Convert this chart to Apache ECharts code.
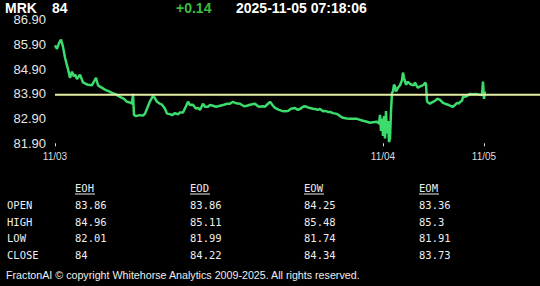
<!DOCTYPE html>
<html><head><meta charset="utf-8">
<script src="https://cdn.jsdelivr.net/npm/echarts@6/dist/echarts.min.js"></script>
<style>html,body{margin:0;padding:0;background:#000;}#c{width:540px;height:286px;}</style>
</head><body><div id="c"></div>
<script>
// sample positions (index along the session) and prices
const pos = [0,2,4,6,8,10,12,13,15,17,19,20,22,25,28,31,33,37,39,41,43,45,48,50,54,57,61,65,69,72,75,77,78,79,81,85,88,90,93,95,98,100,102,105,107,110,112,115,117,120,123,125,128,131,133,135,138,141,143,145,148,150,153,155,158,161,165,169,172,175,178,181,185,189,192,195,200,203,205,208,210,213,215,218,220,224,227,230,233,236,240,243,245,248,250,253,255,258,260,263,265,268,270,273,275,278,282,285,288,292,295,299,302,305,308,312,315,318,322,324,325,326,327,328,329,330,331,332,333,334,335,336,337,338,339,340,341,343,345,347,348,349,351,353,355,357,359,360,362,363,365,367,369,370,371,372,373,375,376,378,380,382,385,388,390,393,395,398,400,402,404,405,407,408,410,412,415,418,420,423,425,427,428,429,430];
const price = [85.86,85.72,85.95,86.10,85.80,85.37,85.05,84.90,84.55,84.80,84.60,84.68,84.50,84.68,84.36,84.30,84.27,84.25,84.40,84.55,84.25,84.19,84.12,84.07,84.00,83.94,83.88,83.78,83.70,83.58,83.55,83.50,83.90,83.05,83.00,83.04,83.02,83.10,83.40,83.60,83.82,83.72,83.58,83.50,83.46,83.30,83.10,83.08,83.04,83.12,83.07,83.15,83.15,83.40,83.58,83.45,83.46,83.30,83.33,83.25,83.50,83.38,83.38,83.45,83.42,83.38,83.42,83.46,83.50,83.50,83.58,83.52,83.50,83.40,83.42,83.46,83.50,83.40,83.38,83.40,83.38,83.50,83.58,83.42,83.33,83.25,83.21,83.20,83.21,83.30,83.33,83.25,83.29,83.38,83.40,83.35,83.33,83.30,83.29,83.25,83.29,83.20,83.21,83.17,83.17,83.12,83.09,83.00,82.93,82.90,82.89,82.89,82.89,82.85,82.81,82.77,82.73,82.75,82.77,82.70,83.05,82.40,82.90,82.20,83.00,82.10,83.20,82.30,82.80,81.95,82.10,83.20,83.94,84.00,84.27,84.20,84.00,84.15,84.25,84.45,84.76,84.55,84.27,84.39,84.30,84.27,84.25,84.36,84.20,84.15,84.20,84.23,84.28,84.36,84.30,83.60,83.55,83.50,83.54,83.58,83.62,83.70,83.66,83.54,83.50,83.46,83.42,83.38,83.45,83.54,83.50,83.58,83.62,83.78,83.78,83.82,83.90,83.88,83.90,83.88,83.86,83.85,84.40,83.70,84.00];
const refLevel = 83.86;
const dayTicks = [0, 328, 429];
const dayLabels = ['11/03', '11/04', '11/05'];
const yTicks = [81.9, 82.9, 83.9, 84.9, 85.9, 86.9];

const symbol = 'MRK', last = '84', change = '+0.14', stamp = '2025-11-05 07:18:06';
const colHeads = ['EOH', 'EOD', 'EOW', 'EOM'];
const rowHeads = ['OPEN', 'HIGH', 'LOW', 'CLOSE'];
const openVals = ['83.86', '83.86', '84.25', '83.36'];
const highVals = ['84.96', '85.11', '85.48', '85.3'];
const lowVals = ['82.01', '81.99', '81.74', '81.91'];
const closeVals = ['84', '84.22', '84.34', '83.73'];
const footer = 'FractonAI \u00A9 copyright Whitehorse Analytics 2009-2025. All rights reserved.';

const chart = echarts.init(document.getElementById('c'), null, {renderer: 'svg'});
const xMax = 485;
const lineData = pos.map((p, i) => [p, price[i]]);

const graphic = [];
const hdrFont = 'bold 14px Arial, "Liberation Sans", sans-serif';
graphic.push({type:'text', x:5, y:8, style:{text:symbol, font:hdrFont, fill:'#fff', textVerticalAlign:'middle'}});
graphic.push({type:'text', x:52, y:8, style:{text:last, font:hdrFont, fill:'#fff', textVerticalAlign:'middle'}});
graphic.push({type:'text', x:176, y:8, style:{text:change, font:hdrFont, fill:'#3cbf3c', textVerticalAlign:'middle'}});
graphic.push({type:'text', x:236, y:8, style:{text:stamp, font:hdrFont, fill:'#fff', textVerticalAlign:'middle'}});

const mono = '10.5px "DejaVu Sans Mono", "Liberation Mono", monospace';
const colX = [75, 190, 304, 419];
const rowY = [205, 222, 238, 255];
const rows = [openVals, highVals, lowVals, closeVals];
colHeads.forEach((h, i) => {
  graphic.push({type:'text', x:colX[i], y:188, style:{text:h, font:mono, fill:'#eee', textVerticalAlign:'middle'}});
  graphic.push({type:'line', shape:{x1:colX[i], y1:194, x2:colX[i]+20, y2:194}, style:{stroke:'#eee', lineWidth:1}});
});
rowHeads.forEach((r, j) => {
  graphic.push({type:'text', x:7, y:rowY[j], style:{text:r, font:mono, fill:'#eee', textVerticalAlign:'middle'}});
  rows[j].forEach((v, i) => {
    graphic.push({type:'text', x:colX[i], y:rowY[j], style:{text:v, font:mono, fill:'#eee', textVerticalAlign:'middle'}});
  });
});
graphic.push({type:'text', x:6, y:275, style:{text:footer, font:'10.7px Arial, "Liberation Sans", sans-serif', fill:'#eee', textVerticalAlign:'middle'}});

chart.setOption({
  backgroundColor: '#000',
  animation: false,
  grid: {left: 55, right: 0, top: 19.7, bottom: 142.7},
  xAxis: {
    type: 'value', min: 0, max: xMax,
    splitLine: {show: false},
    axisLine: {show: false},
    axisTick: {show: true, customValues: dayTicks, length: 3, lineStyle: {color: '#ddd', width: 1}},
    axisLabel: {customValues: dayTicks, color: '#ddd', fontSize: 10, fontFamily: 'Arial', margin: 8,
      formatter: v => dayLabels[dayTicks.indexOf(v)] || ''}
  },
  yAxis: {
    type: 'value', min: 81.9, max: 86.9,
    splitLine: {show: false},
    axisLine: {show: false},
    axisTick: {show: false},
    axisLabel: {customValues: yTicks, color: '#e6e6e6', fontSize: 13, fontFamily: 'Arial', margin: 9,
      formatter: v => v.toFixed(2)}
  },
  graphic: graphic,
  series: [
    {type: 'line', data: lineData, showSymbol: false, lineStyle: {color: '#3cdc6c', width: 2.5}, z: 2},
    {type: 'line', data: [[0, refLevel], [xMax, refLevel]], showSymbol: false, lineStyle: {color: '#e4f0a4', width: 2}, z: 3}
  ]
});
</script></body></html>
